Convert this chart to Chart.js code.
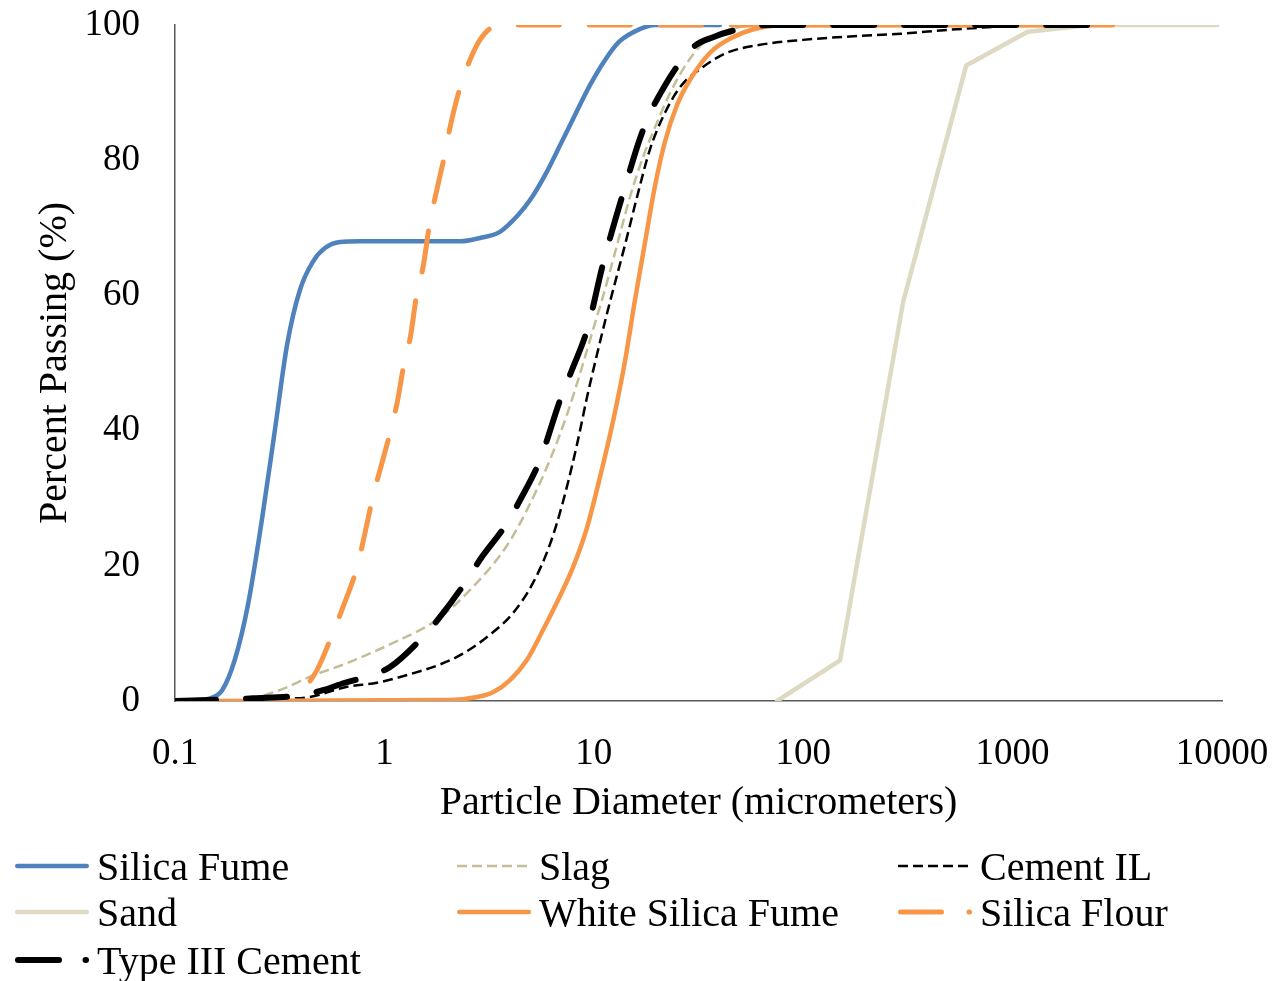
<!DOCTYPE html>
<html>
<head>
<meta charset="utf-8">
<script src="https://cdn.jsdelivr.net/npm/chart.js@4/dist/chart.umd.min.js"></script>
<style>
  body { margin: 0; background: #fff; }
  #wrap { position: relative; width: 1278px; height: 981px; }
  #legend { position: absolute; left: 0; top: 0; width: 1278px; height: 981px; pointer-events: none;
    font-family: "Liberation Serif", "Times New Roman", serif; font-size: 40px; color: #000; }
  .item { position: absolute; height: 46px; display: flex; align-items: center; white-space: nowrap; }
  .item svg { margin-right: 8px; }
</style>
</head>
<body>
<div id="wrap">
  <canvas id="chart" width="1278" height="981"></canvas>
  <div id="legend"></div>
</div>
<script>
// particle size distributions
let xTicks = [0.1, 1, 10, 100, 1000, 10000];
let yTicks = [0, 20, 40, 60, 80, 100];

let silicaFumeX = [0.1, 0.12, 0.147, 0.168, 0.193, 0.223, 0.26, 0.30, 0.343, 0.395, 0.456, 0.52, 0.614, 0.765, 1.19, 2.3, 2.86, 3.56, 4.35, 4.96, 5.85, 6.9, 8.13, 9.59, 11.3, 13.3, 16.6, 19.6, 40];
let silicaFumeY = [0, 0.1, 0.4, 1.6, 6.1, 14.2, 26.8, 40.1, 52.7, 60.8, 65, 67, 67.9, 68, 68, 68, 68.5, 69.4, 71.9, 74.1, 77.8, 82.2, 86.7, 91.1, 94.8, 97.6, 99.4, 100, 100];

let slagX = [0.1, 0.228, 0.255, 0.335, 0.441, 0.663, 1.10, 1.78, 2.56, 3.85, 4.80, 6.18, 7.45, 8.59, 9.91, 11.1, 12.9, 14.9, 17.2, 20.0, 23.1, 27.9, 33.2, 41.4, 49.9, 69.4, 1000];
let slagY = [0, 0, 0.6, 1.9, 3.6, 5.6, 8.6, 12.0, 16.4, 23.0, 28.3, 35.7, 42.4, 48.4, 54.9, 60.0, 67.4, 74.6, 80.5, 85.5, 89.9, 94.4, 97.3, 99.0, 99.7, 100, 100];

let cementILX = [0.1, 0.241, 0.317, 0.441, 0.663, 0.922, 1.37, 1.84, 2.37, 3.19, 4.11, 5.13, 6.18, 7.13, 8.32, 9.29, 10.4, 11.6, 14.1, 16.1, 18.5, 21.4, 25.8, 33.2, 43.3, 60.2, 99.8, 167, 293, 502, 871, 1084];
let cementILY = [0, 0, 0.3, 0.6, 2.1, 2.7, 4.1, 5.4, 7.0, 9.8, 13.0, 17.5, 23.2, 29.5, 38.0, 45.0, 51.5, 57.5, 67.5, 74.6, 81.5, 86.4, 90.8, 93.8, 95.9, 97.0, 97.8, 98.3, 98.7, 99.3, 99.8, 100];

let sandX = [75, 150, 300, 600, 1180, 2360, 4750, 9500];
let sandY = [0, 6, 59, 94, 99, 100, 100, 100];

let whiteSilicaFumeX = [0.1, 2.06, 2.77, 3.30, 3.98, 4.80, 5.72, 6.67, 7.96, 9.29, 10.7, 12.4, 14.1, 15.7, 17.6, 19.6, 21.9, 25.0, 28.8, 35.9, 46.2, 62.2, 86.5, 2000];
let whiteSilicaFumeY = [0, 0.15, 0.6, 1.3, 3.1, 6.1, 10.5, 14.6, 19.8, 25.7, 33.1, 41.6, 50.3, 59.2, 68.0, 76.2, 82.8, 88.2, 91.9, 95.9, 98.2, 99.6, 100, 100];

let silicaFlourX = [0.1, 0.25, 0.33, 0.395, 0.477, 0.568, 0.634, 0.740, 0.882, 1.06, 1.15, 1.25, 1.33, 1.43, 1.53, 1.65, 1.75, 1.95, 2.06, 2.30, 2.56, 2.86, 3.30, 3.98, 3000];
let silicaFlourY = [0, 0, 0.3, 1.3, 4.6, 10.1, 13.9, 19.8, 30.2, 39.5, 44.1, 50.4, 53.8, 60.4, 64.2, 70.9, 74.6, 81.1, 84.9, 90.8, 94.8, 97.8, 99.7, 100, 100];

let typeIIIX = [0.1, 0.236, 0.409, 0.509, 0.648, 0.826, 1.06, 1.53, 1.84, 2.48, 2.86, 3.85, 4.44, 5.54, 6.90, 7.87, 9.29, 11.1, 13.8, 17.2, 21.9, 29.8, 37.1, 48.3, 69.4, 3000];
let typeIIIY = [0, 0.4, 0.9, 1.6, 2.7, 3.6, 5.0, 9.5, 12.4, 17.9, 20.9, 26.3, 29.7, 35.7, 44.5, 49.0, 54.9, 64.8, 75.1, 84.5, 91.1, 96.7, 98.2, 99.3, 100, 100];

const serif = '"Liberation Serif", "Times New Roman", serif';
Chart.defaults.font.family = serif;
Chart.defaults.color = "#000";

function pts(xs, ys) {
  return xs.map((x, i) => ({ x: x, y: ys[i] }));
}

// legend layout: [column, row]
let series = [
  { label: "Silica Fume", data: pts(silicaFumeX, silicaFumeY), color: "#4f81bd", width: 4.5, dash: [], cap: "round", col: 0, row: 0 },
  { label: "Slag", data: pts(slagX, slagY), color: "#c4bd97", width: 2.5, dash: [10, 5], cap: "butt", col: 1, row: 0 },
  { label: "Cement IL", data: pts(cementILX, cementILY), color: "#000000", width: 2.5, dash: [10, 5], cap: "butt", col: 2, row: 0 },
  { label: "Sand", data: pts(sandX, sandY), color: "#ddd9c3", width: 4.5, dash: [], cap: "round", col: 0, row: 1, straight: true },
  { label: "White Silica Fume", data: pts(whiteSilicaFumeX, whiteSilicaFumeY), color: "#f79646", width: 4.5, dash: [], cap: "round", col: 1, row: 1 },
  { label: "Silica Flour", data: pts(silicaFlourX, silicaFlourY), color: "#f79646", width: 5, dash: [41, 30], cap: "round", col: 2, row: 1 },
  { label: "Type III Cement", data: pts(typeIIIX, typeIIIY), color: "#000000", width: 6, dash: [41, 30], cap: "round", col: 0, row: 2 },
];

let datasets = series.map((s, i) => ({
  label: s.label,
  data: s.data,
  borderColor: s.color,
  backgroundColor: s.color,
  borderWidth: s.width,
  borderDash: s.dash,
  borderCapStyle: s.cap,
  borderJoinStyle: "round",
  pointRadius: 0,
  fill: false,
  tension: s.straight ? 0 : 0.4,
  cubicInterpolationMode: s.straight ? "default" : "monotone",
  order: series.length - i,
}));

new Chart(document.getElementById("chart"), {
  type: "line",
  data: { datasets: datasets },
  options: {
    responsive: false,
    animation: false,
    devicePixelRatio: 1,
    layout: { padding: { left: 0, top: 25, right: 56, bottom: 150 } },
    plugins: { legend: { display: false }, tooltip: { enabled: false } },
    scales: {
      x: {
        type: "logarithmic",
        min: 0.1,
        max: 10000,
        grid: { display: false, drawTicks: false },
        border: { display: true, color: "#595959", width: 1.5 },
        ticks: {
          autoSkip: false,
          maxRotation: 0,
          padding: 31,
          font: { size: 37 },
          callback: (v) => String(v),
        },
        afterBuildTicks: (scale) => {
          scale.ticks = xTicks.map((v) => ({ value: v }));
        },
        afterFit: (scale) => {
          scale.height = 130;
          scale.paddingLeft = 0;
          scale.paddingRight = 0;
        },
        title: {
          display: true,
          text: "Particle Diameter (micrometers)",
          font: { size: 40 },
          padding: { top: 0, bottom: 4 },
        },
      },
      y: {
        min: 0,
        max: 100,
        grid: { display: false, drawTicks: false },
        border: { display: true, color: "#595959", width: 1.5 },
        ticks: {
          padding: 35,
          font: { size: 37 },
        },
        afterBuildTicks: (scale) => {
          scale.ticks = yTicks.map((v) => ({ value: v }));
        },
        afterFit: (scale) => {
          scale.width = 175;
          scale.paddingTop = 0;
          scale.paddingBottom = 0;
        },
        title: {
          display: true,
          text: "Percent Passing (%)",
          font: { size: 40 },
          padding: { top: 31, bottom: 0 },
        },
      },
    },
  },
});

// legend, three columns under the plot
let colX = [15, 457, 898];
let rowY = [866, 912, 960];
let legend = document.getElementById("legend");
series.forEach((s) => {
  let div = document.createElement("div");
  div.className = "item";
  div.style.left = colX[s.col] + "px";
  div.style.top = rowY[s.row] - 23 + "px";
  let pad = s.cap === "round" ? s.width / 2 : 0;
  let len = 74 - 2 * pad;
  let dash = "";
  if (s.dash.length) {
    // long dashes end in a dot, as in the original sample
    let gap = s.dash[0] > 20 ? len - s.dash[0] - 0.5 : s.dash[1];
    dash = `stroke-dasharray="${s.dash[0]} ${gap}"`;
  }
  div.innerHTML = `<svg width="74" height="14"><line x1="${pad}" y1="7" x2="${74 - pad}" y2="7" stroke="${s.color}" stroke-width="${s.width}" stroke-linecap="${s.cap}" ${dash}/></svg><span>${s.label}</span>`;
  legend.appendChild(div);
});
</script>
</body>
</html>
